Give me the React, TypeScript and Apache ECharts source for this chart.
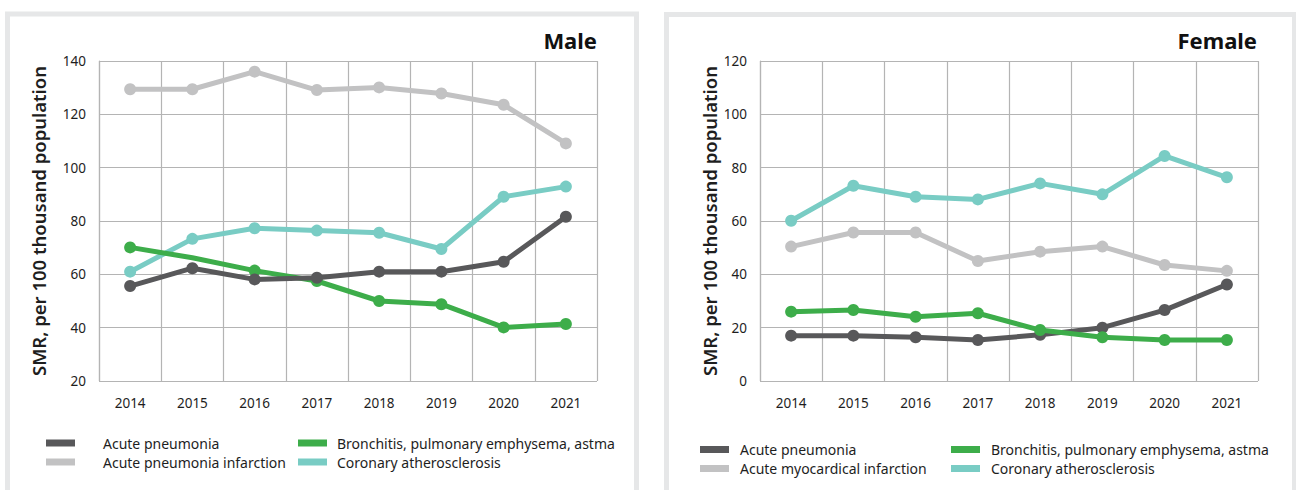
import React, { useEffect, useRef } from "react";
import * as echarts from "echarts";

const years = ["2014", "2015", "2016", "2017", "2018", "2019", "2020", "2021"];

const maleAcutePneumonia = [55.6, 62.3, 58.1, 58.7, 61, 61, 64.7, 81.6];
const maleInfarction = [129.4, 129.4, 136, 129.1, 130.1, 127.8, 123.6, 109.1];
const maleBronchitis = [70.1, 66.2, 61.4, 57.5, 50, 48.8, 40.1, 41.4];
const maleBronchitisHiddenMarkers = [1];
const maleCoronary = [61, 73.3, 77.3, 76.4, 75.6, 69.5, 89.1, 92.9];

const femaleAcutePneumonia = [17, 17, 16.4, 15.4, 17.3, 20, 26.6, 36.2];
const femaleInfarction = [50.4, 55.7, 55.7, 45, 48.5, 50.4, 43.5, 41.3];
const femaleBronchitis = [26, 26.6, 24.1, 25.4, 19.1, 16.4, 15.4, 15.4];
const femaleCoronary = [60.1, 73.2, 69.1, 68.1, 74.1, 70, 84.4, 76.4];

const maleNames = [
  "Acute pneumonia",
  "Acute pneumonia infarction",
  "Bronchitis, pulmonary emphysema, astma",
  "Coronary atherosclerosis",
];
const femaleNames = [
  "Acute pneumonia",
  "Acute myocardical infarction",
  "Bronchitis, pulmonary emphysema, astma",
  "Coronary atherosclerosis",
];
const colors = ["#58585a", "#c2c2c3", "#3dad4a", "#79ccc4"];
const yAxisName = "SMR, per 100 thousand population";
const titles = ["Male", "Female"];
const maleYTicks = { min: 20, max: 140, interval: 20 };
const femaleYTicks = { min: 0, max: 120, interval: 20 };

const FONT = "'Noto Sans', sans-serif";
const TEXT = "#1e1e1e";
const GRID = "#b4b4b4";

function buildLegend(
  names: string[],
  left: number,
  col2: number,
  top: number,
  gap1: number,
  gap2: number
) {
  const els: any[] = [];
  names.forEach((n, i) => {
    const col = i < 2 ? 0 : 1;
    const row = i % 2;
    const sx = col === 0 ? left : col2;
    const y = top + row * 19;
    els.push({
      type: "rect",
      shape: { x: sx, y: y - 3.5, width: 29, height: 7 },
      style: { fill: colors[i] },
      silent: true,
    });
    els.push({
      type: "text",
      x: sx + (col === 0 ? gap1 : gap2),
      y,
      style: {
        text: n,
        fill: TEXT,
        font: `14px ${FONT}`,
        textVerticalAlign: "middle",
        verticalAlign: "middle",
      },
      silent: true,
    });
  });
  return els;
}

export default function App() {
  const ref = useRef<HTMLDivElement>(null);
  useEffect(() => {
    if (!ref.current) return;
    const chart = echarts.init(ref.current, null, { renderer: "svg" });

    const grids = [
      { left: 99, top: 61, width: 498, height: 320 },
      { left: 760, top: 61, width: 498, height: 320 },
    ];
    const xAxes = grids.map((_, gi) => ({
      type: "category",
      gridIndex: gi,
      data: years,
      boundaryGap: true,
      axisLine: { show: false },
      axisTick: { show: false },
      axisLabel: { color: TEXT, fontSize: 13.5, fontFamily: FONT, margin: 15 },
      splitLine: { show: true, lineStyle: { color: GRID, width: 1.2 } },
    }));
    const yTicks = [maleYTicks, femaleYTicks];
    const nameGaps = [51, 41];
    const yAxes = grids.map((_, gi) => ({
      type: "value",
      gridIndex: gi,
      min: yTicks[gi].min,
      max: yTicks[gi].max,
      interval: yTicks[gi].interval,
      name: yAxisName,
      nameLocation: "middle",
      nameGap: nameGaps[gi],
      nameTextStyle: { color: TEXT, fontSize: 18.5, fontFamily: FONT, fontWeight: 600 },
      axisLine: { show: true, lineStyle: { color: GRID, width: 1.2 } },
      axisTick: { show: false },
      axisLabel: { color: TEXT, fontSize: 13.5, fontFamily: FONT, margin: 13 },
      splitLine: { show: true, lineStyle: { color: GRID, width: 1.2 } },
    }));

    const maleData = [maleAcutePneumonia, maleInfarction, maleBronchitis, maleCoronary];
    const femaleData = [femaleAcutePneumonia, femaleInfarction, femaleBronchitis, femaleCoronary];
    const zs = [4, 2, 3, 2];
    const series: any[] = [];
    [maleData, femaleData].forEach((set, gi) => {
      const names = gi === 0 ? maleNames : femaleNames;
      set.forEach((vals, si) => {
        series.push({
          type: "line",
          name: names[si],
          xAxisIndex: gi,
          yAxisIndex: gi,
          z: gi === 1 && si === 2 ? 5 : zs[si],
          data: vals.map((v, i) =>
            gi === 0 && si === 2 && maleBronchitisHiddenMarkers.includes(i)
              ? { value: v, symbolSize: 0 }
              : v
          ),
          symbol: "circle",
          symbolSize: 12,
          color: colors[si],
          lineStyle: { color: colors[si], width: 5 },
          itemStyle: { color: colors[si] },
          emphasis: { disabled: true },
        });
      });
    });

    const graphic: any[] = [
      {
        type: "rect",
        shape: { x: 7.5, y: 14, width: 629, height: 500 },
        style: { fill: "none", stroke: "#e6e7e8", lineWidth: 5 },
        silent: true,
      },
      {
        type: "rect",
        shape: { x: 666.5, y: 14.5, width: 628, height: 500 },
        style: { fill: "none", stroke: "#e6e7e8", lineWidth: 5 },
        silent: true,
      },
      {
        type: "text",
        x: 597,
        y: 40,
        style: {
          text: titles[0],
          fill: "#111",
          font: `bold 22px ${FONT}`,
          textAlign: "right",
          textVerticalAlign: "middle",
          align: "right",
          verticalAlign: "middle",
        },
        silent: true,
      },
      {
        type: "text",
        x: 1257,
        y: 40,
        style: {
          text: titles[1],
          fill: "#111",
          font: `bold 22px ${FONT}`,
          textAlign: "right",
          textVerticalAlign: "middle",
          align: "right",
          verticalAlign: "middle",
        },
        silent: true,
      },
      ...buildLegend(maleNames, 46, 298, 443, 57, 39),
      ...buildLegend(femaleNames, 700, 951, 449.5, 40, 40),
    ];

    chart.setOption({
      animation: false,
      backgroundColor: "#ffffff",
      grid: grids,
      xAxis: xAxes,
      yAxis: yAxes,
      series,
      graphic,
    });
    return () => chart.dispose();
  }, []);
  return (
    <div
      ref={ref}
      style={{ position: "absolute", left: 0, top: 0, width: 1296, height: 490 }}
    />
  );
}
